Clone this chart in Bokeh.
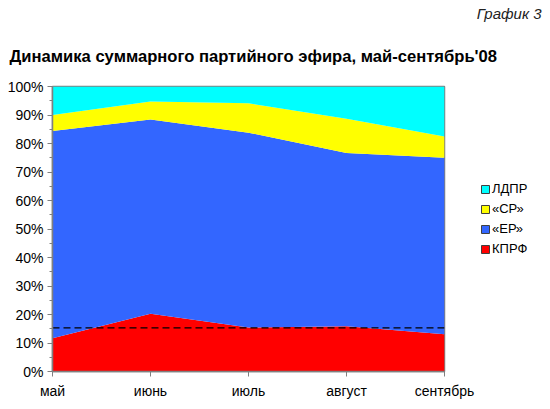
import sys, traceback
from bokeh.plotting import figure
from bokeh.models import Range1d, ColumnDataSource, Legend, LegendItem, Title, FixedTicker
from bokeh.embed import file_html
from bokeh.resources import INLINE

months = ["май", "июнь", "июль", "август", "сентябрь"]
kprf = [11.7, 20.3, 15.4, 15.9, 13.1]
er = [72.7, 68.1, 68.4, 60.8, 61.9]
sr = [5.6, 6.3, 10.3, 12.0, 7.5]
ldpr = [10.0, 5.3, 5.9, 11.3, 17.5]
avg_level = 15.3
y_ticks = [0, 10, 20, 30, 40, 50, 60, 70, 80, 90, 100]
y_tick_labels = [f"{v}%" for v in y_ticks]

series_names = ["КПРФ", "«ЕР»", "«СР»", "ЛДПР"]
series_colors = ["#FF0000", "#3366FF", "#FFFF00", "#00FFFF"]
FONT = "Liberation Sans"

x = list(range(len(months)))
src = ColumnDataSource(dict(x=x, kprf=kprf, er=er, sr=sr, ldpr=ldpr))

p = figure(frame_width=392, frame_height=285, output_backend="svg", toolbar_location=None,
           x_range=Range1d(0, len(months) - 1), y_range=Range1d(0, 100),
           min_border_left=52, min_border_right=98, min_border_top=5, min_border_bottom=10)

keys = ["kprf", "er", "sr", "ldpr"]
try:
    p.varea_stack(keys, x="x", color=series_colors, source=src)
    p.line_stack(keys, x="x", line_color="#1a1a40", line_width=0.8, source=src)
except Exception:
    traceback.print_exc()

p.line(x=[0, len(months) - 1], y=[avg_level, avg_level], line_color="black",
       line_width=1.2, line_dash="7 4")

try:
    items = []
    for name, col in reversed(list(zip(series_names, series_colors))):
        # zero-size quads at the data points: they only provide the legend swatch
        r = p.quad(left="x", right="x", top="kprf", bottom="kprf", source=src,
                   fill_color=col, line_color="#404040", line_width=1)
        items.append(LegendItem(label=name, renderers=[r]))
    leg = Legend(items=items, location=(36, 115), glyph_width=10, glyph_height=10,
                 label_text_font=FONT, label_text_font_size="13px", spacing=5,
                 label_text_color="black",
                 label_standoff=2, padding=0, margin=0, border_line_color=None,
                 background_fill_alpha=0)
    p.add_layout(leg, "right")
except Exception:
    traceback.print_exc()

p.xgrid.visible = False
p.ygrid.visible = False
p.outline_line_color = "#808080"
p.outline_line_width = 1.5

try:
    p.xaxis.ticker = FixedTicker(ticks=x)
    p.xaxis.major_label_overrides = {i: m for i, m in enumerate(months)}
    p.yaxis.ticker = FixedTicker(ticks=y_ticks, minor_ticks=[v + 5 for v in y_ticks[:-1]])
    p.yaxis.major_label_overrides = {v: l for v, l in zip(y_ticks, y_tick_labels)}
except Exception:
    traceback.print_exc()

for ax in (p.xaxis, p.yaxis):
    ax.axis_line_color = "#808080"
    ax.axis_line_width = 1.5
    ax.major_tick_line_color = "#808080"
    ax.minor_tick_line_color = "#808080"
    ax.major_tick_in = 0
    ax.major_tick_out = 5
    ax.minor_tick_in = 0
    ax.minor_tick_out = 3
    ax.major_label_text_font = FONT
    ax.major_label_text_font_size = "14px"
    ax.major_label_text_color = "black"
p.xaxis.minor_tick_line_color = None
p.xaxis.major_label_standoff = 6
p.yaxis.major_label_standoff = 4

try:
    p.add_layout(Title(text="Динамика суммарного партийного эфира, май-сентябрь'08",
                       align="left", text_font=FONT, text_font_size="16.6px",
                       text_font_style="bold", offset=-43, standoff=41,
                       text_color="black"), "above")
    p.add_layout(Title(text="График 3", align="right", text_font=FONT,
                       text_font_size="15px", text_font_style="italic",
                       offset=-97, standoff=5, text_color="#222222"), "above")
except Exception:
    traceback.print_exc()

with open("out.html", "w", encoding="utf-8") as f:
    f.write(file_html(p, INLINE))
